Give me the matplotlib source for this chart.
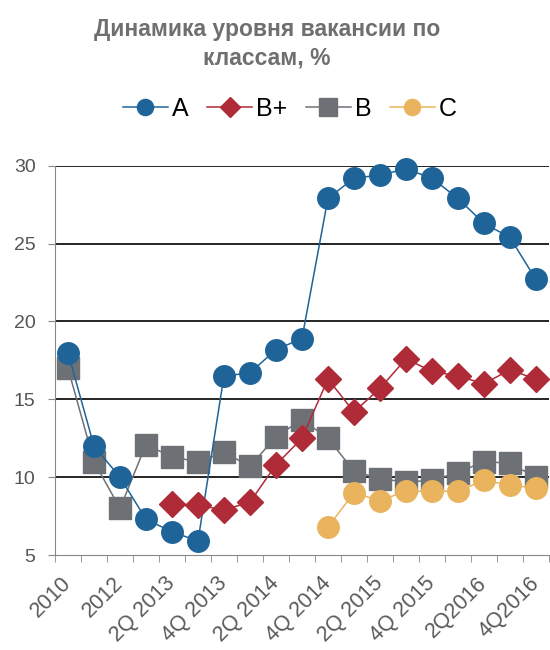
import matplotlib.pyplot as plt
import matplotlib.transforms as mtransforms
import numpy as np

plt.rcParams['font.family'] = ['Liberation Sans', 'DejaVu Sans']

periods = ["2010", "2011", "2012", "1Q 2013", "2Q 2013", "3Q 2013", "4Q 2013",
           "1Q 2014", "2Q 2014", "3Q 2014", "4Q 2014", "1Q 2015", "2Q 2015",
           "3Q 2015", "4Q 2015", "1Q2016", "2Q2016", "3Q2016", "4Q2016"]
nan = np.nan
a_vals = [18.0, 12.0, 10.0, 7.3, 6.5, 5.9, 16.5, 16.7, 18.2, 18.9,
          27.9, 29.2, 29.4, 29.8, 29.2, 27.9, 26.3, 25.4, 22.7]
bplus_vals = [nan, nan, nan, nan, 8.3, 8.2, 7.9, 8.4, 10.8, 12.5,
              16.3, 14.2, 15.7, 17.6, 16.8, 16.5, 16.0, 16.9, 16.3]
b_vals = [17.0, 11.0, 8.0, 12.1, 11.3, 11.0, 11.6, 10.7, 12.6, 13.7,
          12.5, 10.4, 9.9, 9.7, 9.8, 10.3, 11.0, 10.9, 10.0]
c_vals = [nan, nan, nan, nan, nan, nan, nan, nan, nan, nan,
          6.8, 9.0, 8.5, 9.1, 9.1, 9.1, 9.8, 9.5, 9.3]

fig = plt.figure(figsize=(5.5, 6.5), dpi=100)
ax = fig.add_axes([0.1, 0.146, 0.898, 0.599])
x = np.arange(len(periods))

ax.plot(x, a_vals, color="#1f6499", lw=1.1, marker="o", ms=15.5,
        label="A", clip_on=False, zorder=3)
ax.plot(x, bplus_vals, color="#af2b37", lw=1.1, marker="D", ms=13,
        label="B+", clip_on=False, zorder=4)
ax.plot(x, b_vals, color="#6d7175", lw=1.1, marker="s", ms=16.5,
        label="B", clip_on=False, zorder=2)
ax.plot(x, c_vals, color="#e9b45d", lw=1.1, marker="o", ms=15.5,
        label="C", clip_on=False, zorder=3)

ax.set_xlim(-0.5, len(periods) - 0.5)
ax.set_ylim(5, 30)
ax.set_yticks([5, 10, 15, 20, 25, 30])
for yv in [10, 15, 20, 25, 30]:
    ax.axhline(yv, color="black", lw=1.2, zorder=1)

ax.set_xticks(x[::2])
ax.set_xticklabels(periods[::2], rotation=45, ha="right", va="center",
                   rotation_mode="anchor", fontsize=15.5, color="#5a5a5a")
shift = mtransforms.ScaledTranslation(-3 / 100, 0, fig.dpi_scale_trans)
for lbl in ax.get_xticklabels():
    lbl.set_transform(lbl.get_transform() + shift)
ax.set_xticks(np.arange(-0.5, len(periods), 1), minor=True)
ax.tick_params(axis="x", which="major", length=0, pad=18)
ax.tick_params(axis="x", which="minor", length=5, color="#888888")
ax.tick_params(axis="y", length=5, color="#888888", labelsize=14,
               labelcolor="#555555", pad=9)

for s in ["top", "right"]:
    ax.spines[s].set_visible(False)
ax.spines["left"].set_color("#888888")
ax.spines["bottom"].set_color("#888888")

fig.text(0.485, 0.972, "Динамика уровня вакансии по\nклассам, %",
         ha="center", va="top", fontsize=16.5, fontweight="bold",
         color="#6f6f6f", linespacing=1.3)

fig.legend(loc="center", bbox_to_anchor=(0.527, 0.832), ncol=4, frameon=False,
           fontsize=18, handlelength=1.8, handletextpad=0.15, columnspacing=0.75,
           markerscale=0.75)

fig.savefig("out.png", dpi=100, facecolor="white")
